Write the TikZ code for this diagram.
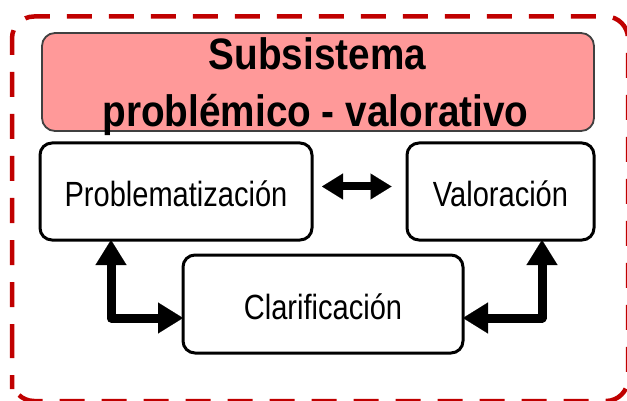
\documentclass[tikz,border=0pt]{standalone}
\usepackage{fontspec}
\setmainfont{Liberation Sans}
\newfontfamily\boxfont[FakeStretch=0.83]{Liberation Sans}
\newfontfamily\headfont[FakeStretch=0.88]{Liberation Sans}
\usetikzlibrary{arrows.meta,calc}
\definecolor{dashred}{HTML}{C00000}
\definecolor{headpink}{HTML}{FF9999}
\definecolor{headline}{HTML}{404040}
\begin{document}
\begin{tikzpicture}[x=1pt,y=-1pt,
  stepbox/.style={draw=black, line width=3pt, rounded corners=12pt, fill=white,
    inner sep=0pt, text height=30pt, text depth=0pt,
    font=\boxfont\fontsize{35}{40}\selectfont},
  headbox/.style={draw=headline, line width=1.8pt, fill=headpink, rounded corners=13pt,
    minimum width=552pt, minimum height=98pt, inner sep=0pt},
  headtext/.style={inner sep=0pt, anchor=base, font=\headfont\bfseries\fontsize{44}{50}\selectfont},
  bigarrows/.style={line width=9pt, line join=round, shorten <=-1.5pt, shorten >=-1.5pt,
    arrows={{Triangle[length=25pt,width=31pt,line width=0.1pt]}-{Triangle[length=25pt,width=31pt,line width=0.1pt]}}},
  midarrows/.style={line width=8pt,
    arrows={{Triangle[length=21pt,width=26pt,line width=0.1pt]}-{Triangle[length=21pt,width=26pt,line width=0.1pt]}}},
  frame/.style={draw=dashred, line width=4.5pt, rounded corners=22pt,
    dash pattern=on 25pt off 17pt, dash phase=4pt}
]
\useasboundingbox (0,0) rectangle (627,401);
\clip (0,0) rectangle (627,401);

% outer dashed frame
\draw[frame] (12,367) -- (12,16.5) -- (628,16.5) -- (628,401) -- (12,401) -- cycle;

% heading
\node[headbox] (head) at (318,82) {};
\node[headtext] (t1) at (317.5,69.5) {Subsistema};
\node[headtext] (t2) at (315.5,126.5) {problémico - valorativo};

% boxes
\node[stepbox, minimum width=272pt, minimum height=97pt] (prob) at (176,191.5) {Problematización};
\node[stepbox, minimum width=187pt, minimum height=97pt] (val) at (500.5,191.5) {Valoración};
\node[stepbox, minimum width=280pt, minimum height=98pt] (clar) at (323,304) {Clarificación};

% connectors
\draw[midarrows] ($(prob.east |- 0,186.5)+(8.5,0)$) -- ($(val.west |- 0,186.5)+(-14,0)$);
\draw[bigarrows] (111,0 |- prob.south) |- (clar.west |- 0,318);
\draw[bigarrows] (542,0 |- val.south) |- (clar.east |- 0,318);
\end{tikzpicture}
\end{document}
